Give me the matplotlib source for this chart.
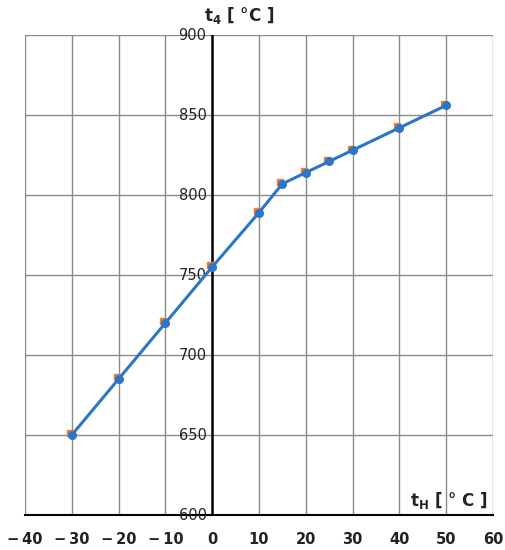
import numpy as np
import matplotlib.pyplot as plt

# data
t_h = [-30, -20, -10, 0, 10, 15, 20, 25, 30, 40, 50]
t4_calc = [650, 685, 720, 755, 789, 807, 814, 821, 828, 842, 856]
t4_ref = [651, 686, 721, 756, 790, 808, 815, 822, 829, 843, 857]

x_ticks = [-40, -30, -20, -10, 0, 10, 20, 30, 40, 50, 60]
x_labels = ['\u2212\u200940', '\u2212\u200930', '\u2212\u200920', '\u2212\u200910',
            '0', '10', '20', '30', '40', '50', '60']
y_ticks = [600, 650, 700, 750, 800, 850, 900]

fig = plt.figure(figsize=(5.05, 5.5), dpi=100)
ax = fig.add_axes([0.0495, 0.0636, 0.9265, 0.8727])

ax.set_xlim(-40, 60)
ax.set_ylim(600, 900)

# grid
for x in x_ticks:
    if x != 0:
        ax.axvline(x, color='#8a8a8a', lw=1.0, zorder=1)
for y in y_ticks[1:]:
    ax.axhline(y, color='#8a8a8a', lw=1.0, zorder=1)
ax.axvline(0, color='black', lw=1.8, zorder=2)

for s in ['top', 'right', 'left']:
    ax.spines[s].set_visible(False)
ax.spines['bottom'].set_color('black')
ax.spines['bottom'].set_linewidth(1.5)

ax.set_xticks(x_ticks)
ax.set_xticklabels(x_labels, fontsize=10.5, fontweight='bold', color='#222222')
ax.tick_params(axis='x', length=0, pad=12)
ax.set_yticks([])

for y in y_ticks:
    ax.text(-1.2, y, str(y), ha='right', va='center', fontsize=10.5, color='#222222', zorder=3)

# series
ax.plot(np.array(t_h) - 0.4, t4_ref, 's', color='#ED7D31', ms=5, zorder=4)
ax.plot(t_h, t4_calc, '-o', color='#2E75C8', lw=2.2, ms=5.5, zorder=5)

ax.text(5.8, 912.5, r'$\mathbf{t_4}$ [ °C ]', fontsize=12, fontweight='bold', ha='center', va='center', color='#222222')
ax.text(50.5, 609, r'$\mathbf{t_H}$ [ ° C ]', fontsize=12, fontweight='bold', ha='center', va='center', color='#222222')

fig.savefig('out.png', dpi=100)
